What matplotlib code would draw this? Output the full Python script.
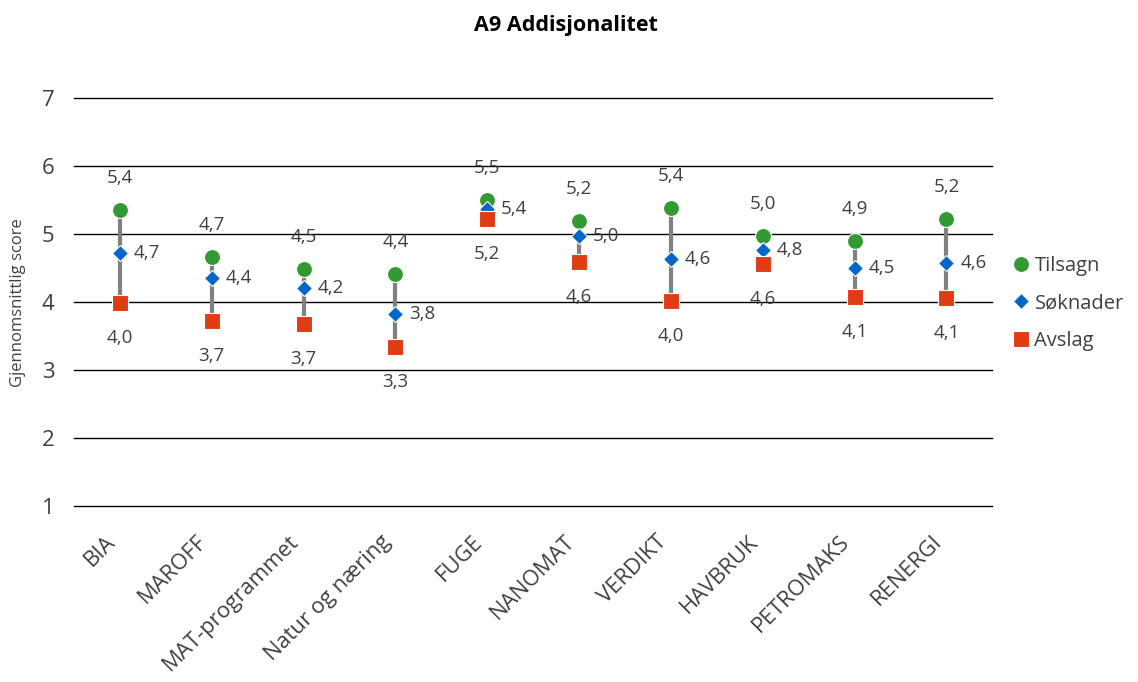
import numpy as np
import matplotlib.pyplot as plt
from matplotlib.transforms import ScaledTranslation

plt.rcParams['font.family'] = ['Open Sans', 'DejaVu Sans']

categories = ["BIA", "MAROFF", "MAT-programmet", "Natur og næring", "FUGE",
              "NANOMAT", "VERDIKT", "HAVBRUK", "PETROMAKS", "RENERGI"]
tilsagn = [5.36, 4.66, 4.49, 4.42, 5.50, 5.20, 5.38, 4.97, 4.90, 5.23]
soknader = [4.72, 4.36, 4.21, 3.82, 5.37, 4.97, 4.63, 4.76, 4.50, 4.57]
avslag = [3.98, 3.72, 3.68, 3.34, 5.22, 4.59, 4.01, 4.56, 4.07, 4.06]

green = "#339933"
blue = "#0066CC"
red = "#E03C14"
text_col = "#404040"

fig = plt.figure(figsize=(11.38, 6.82), dpi=100)
ax = fig.add_axes([0.065, 0.258, 0.807, 0.598])

x = np.arange(len(categories))
ax.vlines(x, avslag, tilsagn, color="#808080", lw=3, zorder=2)
ax.plot(x, tilsagn, "o", color=green, ms=11.5, mec="white", mew=0.8, ls="none", zorder=3, label="Tilsagn")
ax.plot(x, soknader, "D", color=blue, ms=8, mec="white", mew=0.8, ls="none", zorder=3, label="Søknader")
ax.plot(x, avslag, "s", color=red, ms=11, mec="white", mew=0.8, ls="none", zorder=3, label="Avslag")

fmt = lambda v: f"{v:.1f}".replace(".", ",")
for i in range(len(categories)):
    ax.annotate(fmt(tilsagn[i]), (x[i], tilsagn[i]), xytext=(0, 23), textcoords="offset points",
                ha="center", va="center", fontsize=13.5, color=text_col)
    ax.annotate(fmt(soknader[i]), (x[i], soknader[i]), xytext=(10, 0), textcoords="offset points",
                ha="left", va="center", fontsize=13.5, color=text_col)
    ax.annotate(fmt(avslag[i]), (x[i], avslag[i]), xytext=(0, -25), textcoords="offset points",
                ha="center", va="center", fontsize=13.5, color=text_col)

ax.set_xlim(-0.5, len(categories) - 0.5)
ax.set_ylim(1, 7)
ax.set_yticks(range(1, 8))
for yv in range(1, 8):
    ax.axhline(yv, color="black", lw=1, zorder=1, clip_on=False)
for s in ax.spines.values():
    s.set_visible(False)
ax.tick_params(length=0)
ax.tick_params(axis="y", labelsize=16, labelcolor=text_col, pad=14)
ax.set_xticks(x)
ax.set_xticklabels(categories, rotation=45, ha="right", rotation_mode="anchor",
                   fontsize=15.8, color=text_col)
ax.tick_params(axis="x", pad=18)
shift = ScaledTranslation(-11 / 72, 0, fig.dpi_scale_trans)
for lbl in ax.get_xticklabels():
    lbl.set_transform(lbl.get_transform() + shift)

fig.text(0.016, 0.557, "Gjennomsnittlig score", rotation=90, ha="center", va="center",
         fontsize=12, color=text_col)
fig.text(0.497, 0.962, "A9 Addisjonalitet", ha="center", va="center",
         fontsize=15.5, fontweight="bold", color="black")

fig.legend(loc="center left", bbox_to_anchor=(0.871, 0.555), frameon=False,
           fontsize=14.5, handletextpad=0.05, labelspacing=0.88, labelcolor=text_col,
           handlelength=1.2)

fig.savefig("out.png", dpi=100)
